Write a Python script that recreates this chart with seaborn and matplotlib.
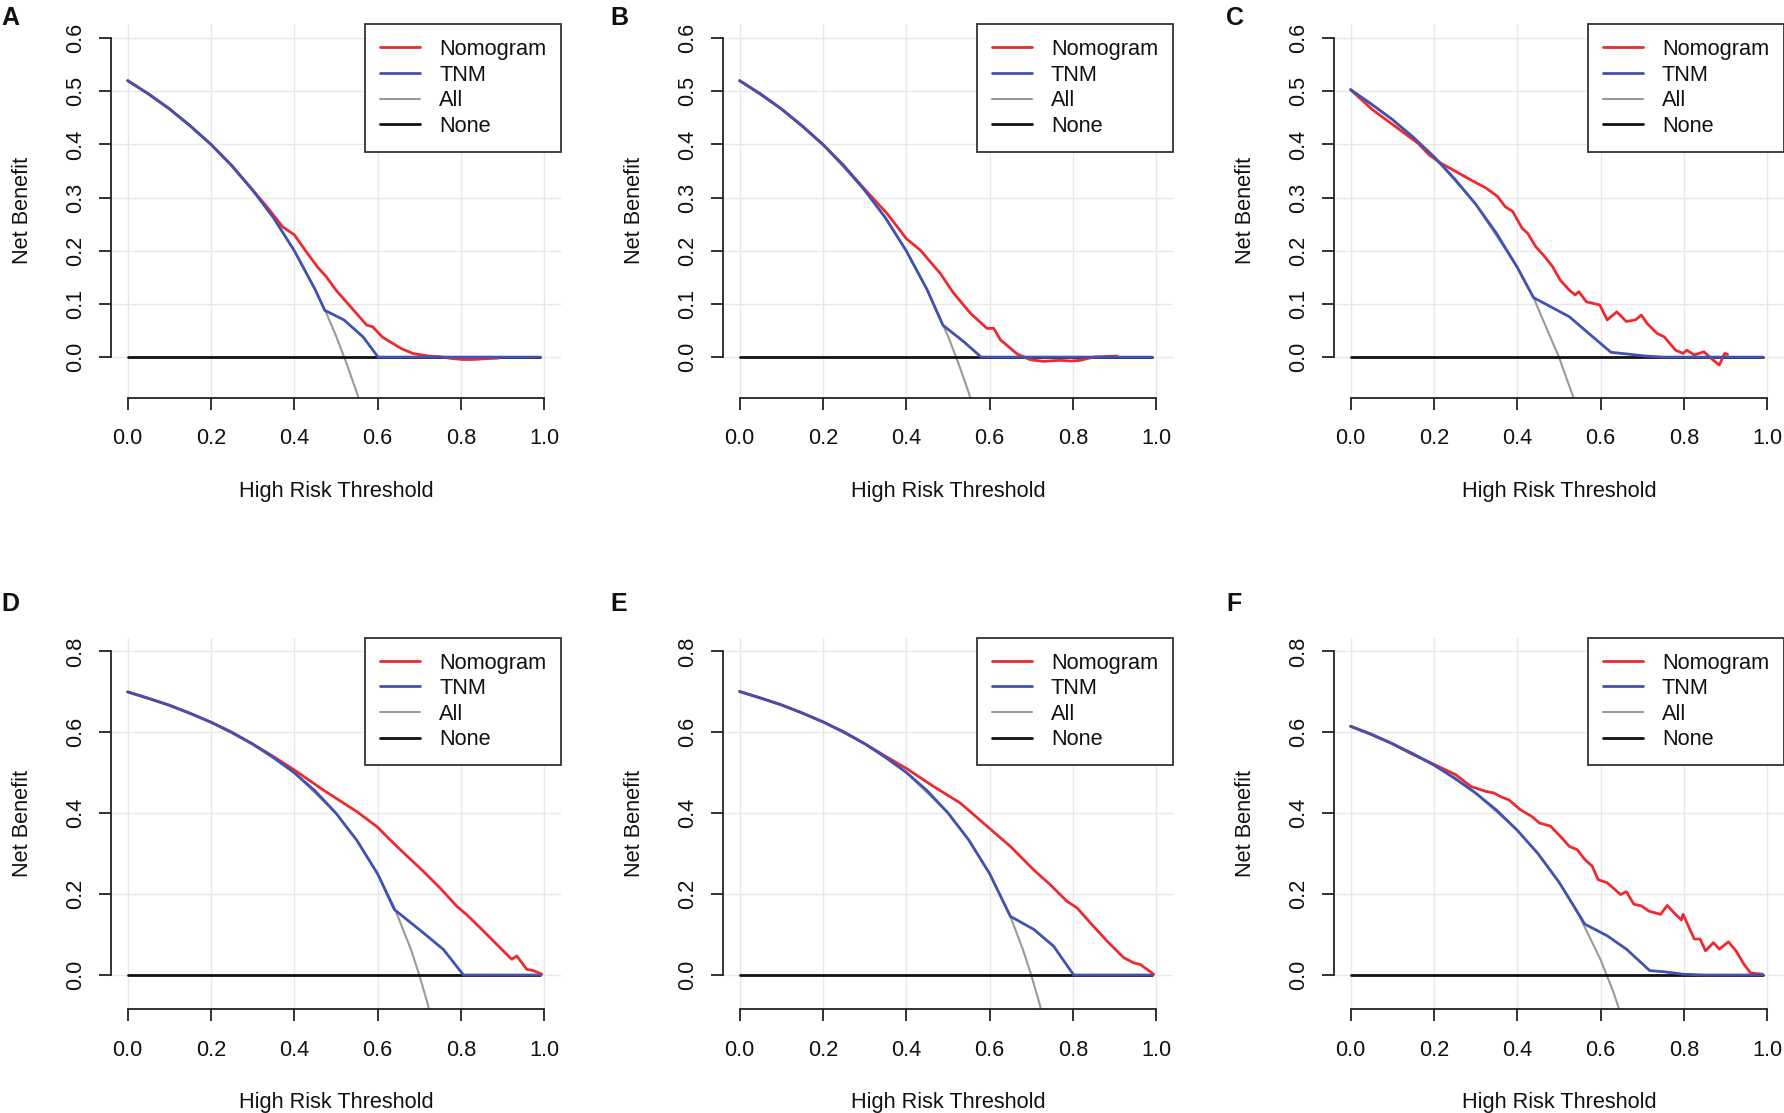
import matplotlib
matplotlib.use("Agg")
import matplotlib.pyplot as plt
import seaborn as sns
import pandas as pd

sns.set_theme(style="white")
plt.rcParams['font.family'] = ['Liberation Sans', 'DejaVu Sans']

# ---------------- data ----------------
panel_letters = ["A", "B", "C", "D", "E", "F"]
series_names = ["Nomogram", "TNM", "All", "None"]
x_ticks = [0.0, 0.2, 0.4, 0.6, 0.8, 1.0]
y_ticks_top = [0.0, 0.1, 0.2, 0.3, 0.4, 0.5, 0.6]
y_ticks_bottom = [0.0, 0.2, 0.4, 0.6, 0.8]

none_t = [0.0, 0.99]
none_nb = [0.0, 0.0]

# Panel A
A_all_t = [0.0, 0.05, 0.1, 0.15, 0.2, 0.25, 0.3, 0.35, 0.4, 0.45, 0.475, 0.5, 0.525, 0.55, 0.575]
A_all_nb = [0.520, 0.495, 0.467, 0.435, 0.400, 0.360, 0.314, 0.262, 0.200, 0.127, 0.086, 0.040, -0.011, -0.067, -0.129]
A_tnm_t = [0.0, 0.05, 0.1, 0.15, 0.2, 0.25, 0.3, 0.35, 0.4, 0.45, 0.473, 0.519, 0.565, 0.601, 0.7, 0.8, 0.9, 0.99]
A_tnm_nb = [0.520, 0.495, 0.467, 0.435, 0.400, 0.360, 0.314, 0.262, 0.200, 0.127, 0.088, 0.070, 0.038, 0.0, 0.0, 0.0, 0.0, 0.0]
A_nomo_t = [0.0, 0.05, 0.1, 0.15, 0.2, 0.25, 0.298, 0.335, 0.372, 0.4, 0.427, 0.455, 0.477, 0.5, 0.528, 0.556,
            0.574, 0.588, 0.611, 0.629, 0.657, 0.684, 0.721, 0.748, 0.776, 0.803, 0.831, 0.858, 0.89]
A_nomo_nb = [0.520, 0.495, 0.467, 0.435, 0.400, 0.360, 0.316, 0.282, 0.245, 0.230, 0.200, 0.170, 0.151, 0.126, 0.101, 0.076,
             0.060, 0.057, 0.038, 0.029, 0.016, 0.007, 0.002, 0.001, -0.0025, -0.0045, -0.0045, -0.003, -0.002]

# Panel B
B_all_t = [0.0, 0.1, 0.2, 0.3, 0.35, 0.4, 0.45, 0.5, 0.525, 0.55, 0.575]
B_all_nb = [0.520, 0.467, 0.400, 0.314, 0.262, 0.200, 0.127, 0.040, -0.011, -0.067, -0.129]
B_tnm_t = [0.0, 0.05, 0.1, 0.15, 0.2, 0.25, 0.3, 0.35, 0.4, 0.45, 0.488, 0.538, 0.58, 0.7, 0.8, 0.9, 0.99]
B_tnm_nb = [0.520, 0.495, 0.467, 0.435, 0.400, 0.360, 0.314, 0.262, 0.200, 0.127, 0.060, 0.029, 0.0, 0.0, 0.0, 0.0, 0.0]
B_nomo_t = [0.0, 0.05, 0.1, 0.15, 0.2, 0.25, 0.3, 0.354, 0.4, 0.434, 0.482, 0.514, 0.554, 0.594, 0.61, 0.626,
            0.666, 0.698, 0.73, 0.77, 0.794, 0.818, 0.85, 0.906]
B_nomo_nb = [0.520, 0.495, 0.467, 0.435, 0.400, 0.360, 0.316, 0.270, 0.223, 0.201, 0.157, 0.120, 0.0825, 0.054, 0.054, 0.0325,
             0.006, -0.005, -0.008, -0.006, -0.0075, -0.006, 0.0, 0.002]

# Panel C
C_all_t = [0.0, 0.1, 0.2, 0.3, 0.4, 0.44, 0.5, 0.54, 0.56]
C_all_nb = [0.503, 0.447, 0.377, 0.288, 0.169, 0.110, 0.0, -0.087, -0.136]
C_tnm_t = [0.0, 0.05, 0.1, 0.15, 0.2, 0.25, 0.3, 0.35, 0.4, 0.439, 0.525, 0.571, 0.625, 0.662, 0.707, 0.75, 0.85, 0.99]
C_tnm_nb = [0.503, 0.476, 0.447, 0.414, 0.377, 0.335, 0.288, 0.233, 0.169, 0.112, 0.076, 0.045, 0.009, 0.006, 0.002, 0.0, 0.0, 0.0]
C_nomo_t = [0.0, 0.053, 0.107, 0.162, 0.189, 0.216, 0.253, 0.289, 0.325, 0.353, 0.371, 0.389, 0.412, 0.425, 0.444,
            0.466, 0.485, 0.503, 0.525, 0.539, 0.548, 0.566, 0.598, 0.616, 0.639, 0.662, 0.684, 0.698, 0.712, 0.735,
            0.753, 0.78, 0.798, 0.807, 0.825, 0.848, 0.871, 0.885, 0.898, 0.905]
C_nomo_nb = [0.503, 0.465, 0.434, 0.402, 0.380, 0.365, 0.349, 0.333, 0.318, 0.302, 0.283, 0.274, 0.242, 0.233, 0.208,
             0.189, 0.170, 0.145, 0.126, 0.117, 0.123, 0.104, 0.098, 0.070, 0.085, 0.067, 0.070, 0.079, 0.063, 0.045,
             0.038, 0.013, 0.007, 0.013, 0.004, 0.010, -0.006, -0.015, 0.007, 0.005]

# Panel D
D_all_t = [0.0, 0.1, 0.2, 0.3, 0.4, 0.5, 0.55, 0.6, 0.64, 0.68, 0.7, 0.72, 0.74]
D_all_nb = [0.700, 0.667, 0.625, 0.571, 0.500, 0.400, 0.333, 0.250, 0.167, 0.063, 0.0, -0.071, -0.154]
D_tnm_t = [0.0, 0.05, 0.1, 0.15, 0.2, 0.25, 0.3, 0.35, 0.4, 0.45, 0.5, 0.55, 0.6, 0.64, 0.71, 0.758, 0.806, 0.9, 0.99]
D_tnm_nb = [0.700, 0.684, 0.667, 0.647, 0.625, 0.600, 0.571, 0.538, 0.500, 0.455, 0.400, 0.333, 0.250, 0.162, 0.104, 0.063, 0.0, 0.0, 0.0]
D_nomo_t = [0.0, 0.05, 0.1, 0.15, 0.2, 0.25, 0.3, 0.35, 0.4, 0.47, 0.55, 0.598, 0.646, 0.71, 0.75, 0.79, 0.814,
            0.846, 0.878, 0.91, 0.922, 0.934, 0.958, 0.974, 0.994]
D_nomo_nb = [0.700, 0.684, 0.667, 0.647, 0.625, 0.600, 0.571, 0.540, 0.507, 0.457, 0.404, 0.367, 0.318, 0.256, 0.215, 0.170, 0.149,
             0.117, 0.084, 0.051, 0.039, 0.047, 0.014, 0.011, 0.002]

# Panel E
E_all_t = [0.0, 0.1, 0.2, 0.3, 0.4, 0.5, 0.55, 0.6, 0.65, 0.68, 0.7, 0.72, 0.74]
E_all_nb = [0.701, 0.668, 0.626, 0.572, 0.501, 0.401, 0.334, 0.251, 0.145, 0.063, 0.0, -0.071, -0.154]
E_tnm_t = [0.0, 0.05, 0.1, 0.15, 0.2, 0.25, 0.3, 0.35, 0.4, 0.45, 0.5, 0.55, 0.6, 0.65, 0.706, 0.754, 0.802, 0.9, 0.99]
E_tnm_nb = [0.701, 0.685, 0.668, 0.648, 0.626, 0.601, 0.572, 0.539, 0.501, 0.456, 0.401, 0.334, 0.251, 0.145, 0.113, 0.071, 0.0, 0.0, 0.0]
E_nomo_t = [0.0, 0.05, 0.1, 0.15, 0.2, 0.25, 0.3, 0.35, 0.4, 0.466, 0.53, 0.586, 0.65, 0.706, 0.746, 0.786, 0.81,
            0.842, 0.882, 0.922, 0.946, 0.962, 0.994]
E_nomo_nb = [0.701, 0.685, 0.668, 0.648, 0.626, 0.601, 0.572, 0.541, 0.511, 0.466, 0.425, 0.375, 0.318, 0.260, 0.223, 0.182, 0.166,
             0.129, 0.084, 0.043, 0.030, 0.026, 0.002]

# Panel F
F_all_t = [0.0, 0.1, 0.2, 0.3, 0.4, 0.45, 0.5, 0.55, 0.6, 0.63, 0.66]
F_all_nb = [0.615, 0.572, 0.519, 0.450, 0.358, 0.300, 0.230, 0.144, 0.038, -0.040, -0.132]
F_tnm_t = [0.0, 0.05, 0.1, 0.15, 0.2, 0.25, 0.3, 0.35, 0.4, 0.45, 0.5, 0.535, 0.562, 0.616, 0.662, 0.718, 0.753, 0.798, 0.85, 0.99]
F_tnm_nb = [0.615, 0.595, 0.572, 0.547, 0.519, 0.487, 0.450, 0.408, 0.358, 0.300, 0.230, 0.172, 0.126, 0.097, 0.064, 0.011, 0.008, 0.002, 0.0, 0.0]
F_nomo_t = [0.0, 0.05, 0.098, 0.144, 0.198, 0.253, 0.289, 0.325, 0.344, 0.362, 0.38, 0.407, 0.435, 0.453, 0.48, 0.507,
            0.525, 0.544, 0.562, 0.58, 0.594, 0.616, 0.648, 0.662, 0.68, 0.698, 0.716, 0.744, 0.76, 0.78, 0.794, 0.798,
            0.825, 0.839, 0.852, 0.871, 0.885, 0.907, 0.925, 0.944, 0.96, 0.989]
F_nomo_nb = [0.615, 0.595, 0.573, 0.548, 0.522, 0.495, 0.466, 0.454, 0.450, 0.440, 0.433, 0.409, 0.392, 0.376, 0.368, 0.339,
             0.318, 0.310, 0.286, 0.269, 0.236, 0.228, 0.199, 0.206, 0.175, 0.171, 0.158, 0.150, 0.172, 0.150, 0.136, 0.150,
             0.089, 0.089, 0.060, 0.080, 0.064, 0.082, 0.060, 0.027, 0.005, 0.002]

panels = {
    "A": (A_nomo_t, A_nomo_nb, A_tnm_t, A_tnm_nb, A_all_t, A_all_nb),
    "B": (B_nomo_t, B_nomo_nb, B_tnm_t, B_tnm_nb, B_all_t, B_all_nb),
    "C": (C_nomo_t, C_nomo_nb, C_tnm_t, C_tnm_nb, C_all_t, C_all_nb),
    "D": (D_nomo_t, D_nomo_nb, D_tnm_t, D_tnm_nb, D_all_t, D_all_nb),
    "E": (E_nomo_t, E_nomo_nb, E_tnm_t, E_tnm_nb, E_all_t, E_all_nb),
    "F": (F_nomo_t, F_nomo_nb, F_tnm_t, F_tnm_nb, F_all_t, F_all_nb),
}

# ---------------- styling / layout ----------------
W, H = 1784, 1113
fig = plt.figure(figsize=(W / 100, H / 100), dpi=100)

FS = 15.7
colors = {"Nomogram": "#EE2A2F", "TNM": "#4152B0", "All": "#9A9A9A", "None": "#111111"}
lws = {"Nomogram": 2.0, "TNM": 2.0, "All": 1.5, "None": 2.0}

col_x0 = [127.7, 739.6, 1350.6]
unit_x = 416.6
row_specs = [
    dict(top=24.3, bottom=397.5, ylim=(-0.076, 0.626), yticks=y_ticks_top, ybound=(0.0, 0.6)),
    dict(top=637.7, bottom=1009.0, ylim=(-0.084, 0.834), yticks=y_ticks_bottom, ybound=(0.0, 0.8)),
]
letter_pos = [(1, 25), (610, 25), (1226, 25), (1, 611), (610, 611), (1226, 611)]

for i, letter in enumerate(panel_letters):
    r, c = divmod(i, 3)
    rs = row_specs[r]
    left_px = col_x0[c] - 0.04 * unit_x
    width_px = 1.08 * unit_x
    ax = fig.add_axes([left_px / W, 1 - rs["bottom"] / H, width_px / W, (rs["bottom"] - rs["top"]) / H])

    nomo_t, nomo_nb, tnm_t, tnm_nb, all_t, all_nb = panels[letter]
    df_all = pd.DataFrame({"t": all_t, "nb": all_nb})
    df_none = pd.DataFrame({"t": none_t, "nb": none_nb})
    df_nomo = pd.DataFrame({"t": nomo_t, "nb": nomo_nb})
    df_tnm = pd.DataFrame({"t": tnm_t, "nb": tnm_nb})

    sns.lineplot(data=df_all, x="t", y="nb", ax=ax, color=colors["All"], lw=lws["All"],
                 estimator=None, sort=False, label="All")
    sns.lineplot(data=df_none, x="t", y="nb", ax=ax, color=colors["None"], lw=lws["None"],
                 estimator=None, sort=False, label="None")
    sns.lineplot(data=df_nomo, x="t", y="nb", ax=ax, color=colors["Nomogram"], lw=lws["Nomogram"],
                 estimator=None, sort=False, label="Nomogram")
    sns.lineplot(data=df_tnm, x="t", y="nb", ax=ax, color=colors["TNM"], lw=lws["TNM"],
                 estimator=None, sort=False, label="TNM")

    ax.set_xlim(-0.04, 1.04)
    ax.set_ylim(*rs["ylim"])
    ax.set_xticks(x_ticks)
    ax.set_xticklabels([f"{v:.1f}" for v in x_ticks])
    ax.set_yticks(rs["yticks"])
    ax.set_yticklabels([f"{v:.1f}" for v in rs["yticks"]], rotation=90, va="center")

    ax.grid(True, color="#E8E8E8", lw=1.0)
    ax.set_axisbelow(True)

    for s in ["top", "right"]:
        ax.spines[s].set_visible(False)
    for s in ["left", "bottom"]:
        ax.spines[s].set_color("#222222")
        ax.spines[s].set_linewidth(1.3)
    ax.spines["left"].set_bounds(*rs["ybound"])
    ax.spines["bottom"].set_bounds(0.0, 1.0)

    ax.tick_params(axis="both", direction="out", length=8.6, width=1.3, color="#222222",
                   labelsize=FS, labelcolor="#111111", bottom=True, left=True)
    ax.tick_params(axis="x", pad=13.5)
    ax.tick_params(axis="y", pad=9)

    ax.set_xlabel("High Risk Threshold", fontsize=FS, color="#111111")
    ax.set_ylabel("Net Benefit", fontsize=FS, color="#111111")
    ax.xaxis.set_label_coords(0.5, -0.252)
    ax.xaxis.label.set_va("center")
    ax.yaxis.set_label_coords(-0.196, 0.5)
    ax.yaxis.label.set_va("center")
    ax.yaxis.label.set_ha("center")

    handles, labels = ax.get_legend_handles_labels()
    hmap = dict(zip(labels, handles))
    leg = ax.legend([hmap[n] for n in series_names], series_names, loc="upper right",
                    bbox_to_anchor=(1.0, 1.0), borderaxespad=0.0, frameon=True, fancybox=False,
                    edgecolor="#333333", framealpha=1.0, fontsize=FS, handlelength=1.85,
                    handletextpad=0.85, borderpad=0.68, labelspacing=0.21)
    leg.get_frame().set_linewidth(1.3)
    for t in leg.get_texts():
        t.set_color("#111111")

    lx, ly = letter_pos[i]
    fig.text(lx / W, 1 - ly / H, letter, fontsize=18, fontweight="bold", va="baseline", ha="left",
             color="#111111")

fig.savefig("out.png", dpi=100, facecolor="white")
